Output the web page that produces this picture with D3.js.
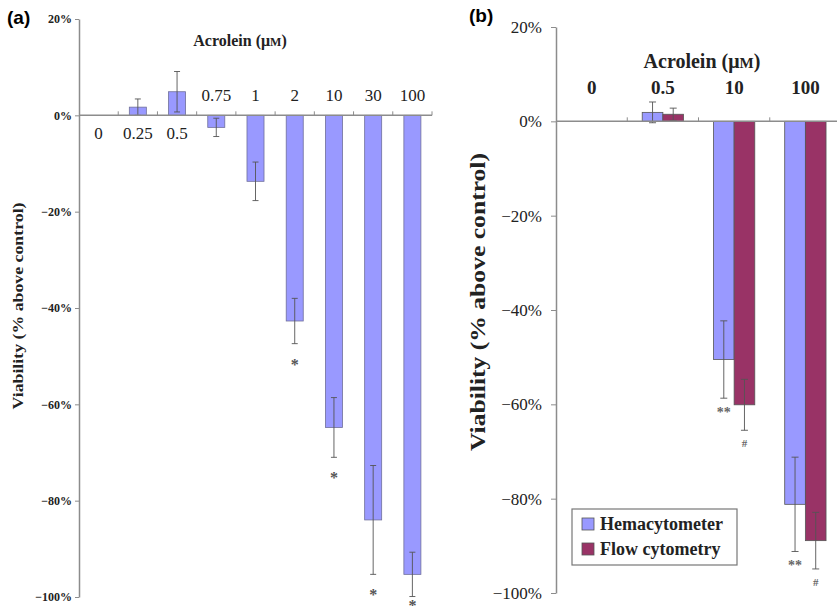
<!DOCTYPE html>
<html>
<head>
<meta charset="utf-8">
<script src="https://cdn.jsdelivr.net/npm/d3@7"></script>
<style>
  body { margin: 0; background: #fff; }
  svg { display: block; }
  .serif { font-family: "Liberation Serif", "Times New Roman", serif; }
</style>
</head>
<body>
<div class="chart"></div>
<script>
// panel (a) data
var concA = ["0", "0.25", "0.5", "0.75", "1", "2", "10", "30", "100"];
var meanA = [0, 1.7, 4.9, -2.5, -13.7, -42.7, -64.8, -84.0, -95.3];
var sdA = [0, 1.7, 4.2, 1.9, 4.0, 4.7, 6.2, 11.3, 4.6];
var sigA = ["", "", "", "", "", "*", "*", "*", "*"];

// panel (b) data
var concB = ["0", "0.5", "10", "100"];
var seriesB = ["Hemacytometer", "Flow cytometry"];
var hemaB = [0, 1.9, -50.5, -81.2];
var hemaSdB = [0, 2.2, 8.2, 10.0];
var flowB = [0, 1.5, -60.1, -88.9];
var flowSdB = [0, 1.3, 5.4, 6.0];
var hemaSigB = ["", "", "**", "**"];
var flowSigB = ["", "", "#", "#"];

var tickVals = [20, 0, -20, -40, -60, -80, -100];

var colors = ["#9999ff", "#993366"];
var axisColor = "#8c8c8c";
var errColor = "#555";

var svg = d3.select(".chart").append("svg")
  .attr("width", 837)
  .attr("height", 606);

function pct(d) { return (d < 0 ? "\u2212" : "") + Math.abs(d) + "%"; }

// ---------- panel (a) ----------
var xA = d3.scaleBand()
  .domain(concA)
  .range([79, 432])
  .paddingInner(0.566)
  .paddingOuter(0.283);
var yA = d3.scaleLinear()
  .domain([-100, 20])
  .range([597, 19]);

var gA = svg.append("g");

var axA = gA.append("g")
  .attr("transform", "translate(79,0)")
  .call(d3.axisLeft(yA).tickValues(tickVals).tickSize(4).tickSizeOuter(0).tickPadding(3).tickFormat(pct));
axA.select(".domain").attr("stroke", axisColor).attr("stroke-width", 1.5);
axA.selectAll(".tick line").attr("stroke", axisColor);
axA.selectAll(".tick text")
  .attr("class", "serif")
  .style("font-size", "12px")
  .style("font-weight", "bold")
  .attr("fill", "#222");

// bars
var dataA = concA.map(function(c, i) {
  return {c: c, v: meanA[i], sd: sdA[i], sig: sigA[i]};
});
gA.selectAll(".barA")
  .data(dataA.filter(function(d) { return d.v !== 0; }))
  .enter().append("rect")
  .attr("x", function(d) { return xA(d.c); })
  .attr("y", function(d) { return yA(Math.max(0, d.v)); })
  .attr("width", xA.bandwidth())
  .attr("height", function(d) { return Math.abs(yA(d.v) - yA(0)); })
  .attr("fill", colors[0])
  .attr("stroke", "#6f6f9a")
  .attr("stroke-width", 0.8);

// error bars
var errA = gA.selectAll(".errA")
  .data(dataA.filter(function(d) { return d.sd > 0; }))
  .enter().append("g")
  .attr("transform", function(d) { return "translate(" + (xA(d.c) + xA.bandwidth() / 2) + ",0)"; });
errA.append("line")
  .attr("y1", function(d) { return yA(d.v + d.sd); })
  .attr("y2", function(d) { return yA(d.v - d.sd); })
  .attr("stroke", errColor).attr("stroke-width", 0.9);
errA.selectAll(".cap")
  .data(function(d) { return [d.v + d.sd, d.v - d.sd]; })
  .enter().append("line")
  .attr("x1", -3).attr("x2", 3)
  .attr("y1", function(v) { return yA(v); })
  .attr("y2", function(v) { return yA(v); })
  .attr("stroke", errColor).attr("stroke-width", 0.9);

// significance marks
gA.selectAll(".sigA")
  .data(dataA.filter(function(d) { return d.sig; }))
  .enter().append("text")
  .attr("class", "serif")
  .attr("x", function(d) { return xA(d.c) + xA.bandwidth() / 2; })
  .attr("y", function(d) { return Math.min(yA(d.v - d.sd) + 26, 611); })
  .attr("text-anchor", "middle")
  .style("font-size", "16px")
  .style("font-weight", "bold")
  .attr("fill", "#555")
  .text(function(d) { return d.sig; });

// x axis line with boundary ticks
gA.append("line")
  .attr("x1", 79).attr("x2", 432)
  .attr("y1", yA(0)).attr("y2", yA(0))
  .attr("stroke", axisColor).attr("stroke-width", 1.5);
gA.selectAll(".xtickA")
  .data(concA)
  .enter().append("line")
  .attr("x1", function(d, i) { return xA.range()[0] + (i + 1) * xA.step(); })
  .attr("x2", function(d, i) { return xA.range()[0] + (i + 1) * xA.step(); })
  .attr("y1", yA(0)).attr("y2", yA(0) - 4)
  .attr("stroke", axisColor);

// category labels
gA.selectAll(".catA")
  .data(dataA)
  .enter().append("text")
  .attr("class", "serif")
  .attr("x", function(d) { return xA(d.c) + xA.bandwidth() / 2; })
  .attr("y", function(d) { return d.v >= 0 ? yA(0) + 24 : yA(0) - 14; })
  .attr("text-anchor", "middle")
  .style("font-size", "17px")
  .attr("fill", "#222")
  .text(function(d) { return d.c; });

// title
var tA = gA.append("text")
  .attr("class", "serif")
  .attr("x", 240).attr("y", 46)
  .attr("text-anchor", "middle")
  .style("font-size", "16px")
  .style("font-weight", "bold")
  .attr("fill", "#222");
tA.append("tspan").text("Acrolein (\u03bc");
tA.append("tspan").style("font-size", "12px").text("M");
tA.append("tspan").text(")");

// y label
gA.append("text")
  .attr("class", "serif")
  .attr("transform", "translate(23,306) rotate(-90)")
  .attr("text-anchor", "middle")
  .attr("textLength", 207)
  .attr("lengthAdjust", "spacingAndGlyphs")
  .style("font-size", "14px")
  .style("font-weight", "bold")
  .attr("fill", "#222")
  .text("Viability (% above control)");

svg.append("text")
  .attr("x", 7).attr("y", 24)
  .style("font-family", "'Liberation Sans', Arial, sans-serif")
  .style("font-size", "19px")
  .style("font-weight", "bold")
  .text("(a)");

// ---------- panel (b) ----------
var x0B = d3.scaleBand()
  .domain(concB)
  .range([556, 841])
  .paddingInner(0.42)
  .paddingOuter(0.21);
var x1B = d3.scaleBand()
  .domain(seriesB)
  .range([0, x0B.bandwidth()]);
var yB = d3.scaleLinear()
  .domain([-100, 20])
  .range([593, 27]);

var gB = svg.append("g");

var axB = gB.append("g")
  .attr("transform", "translate(556,0)")
  .call(d3.axisLeft(yB).tickValues(tickVals).tickSize(5).tickSizeOuter(0).tickPadding(9).tickFormat(pct));
axB.select(".domain").attr("stroke", axisColor).attr("stroke-width", 1.5);
axB.selectAll(".tick line").attr("stroke", axisColor);
axB.selectAll(".tick text")
  .attr("class", "serif")
  .style("font-size", "17px")
  .attr("fill", "#222");

var dataB = [];
concB.forEach(function(c, i) {
  dataB.push({c: c, s: seriesB[0], v: hemaB[i], sd: hemaSdB[i], sig: hemaSigB[i], col: colors[0]});
  dataB.push({c: c, s: seriesB[1], v: flowB[i], sd: flowSdB[i], sig: flowSigB[i], col: colors[1]});
});
function cxB(d) { return x0B(d.c) + x1B(d.s) + x1B.bandwidth() / 2; }

gB.selectAll(".barB")
  .data(dataB.filter(function(d) { return d.v !== 0; }))
  .enter().append("rect")
  .attr("x", function(d) { return x0B(d.c) + x1B(d.s); })
  .attr("y", function(d) { return yB(Math.max(0, d.v)); })
  .attr("width", x1B.bandwidth())
  .attr("height", function(d) { return Math.abs(yB(d.v) - yB(0)); })
  .attr("fill", function(d) { return d.col; })
  .attr("stroke", "#555")
  .attr("stroke-width", 0.8);

var errB = gB.selectAll(".errB")
  .data(dataB.filter(function(d) { return d.sd > 0; }))
  .enter().append("g")
  .attr("transform", function(d) { return "translate(" + cxB(d) + ",0)"; });
errB.append("line")
  .attr("y1", function(d) { return yB(d.v + d.sd); })
  .attr("y2", function(d) { return yB(d.v - d.sd); })
  .attr("stroke", errColor).attr("stroke-width", 0.9);
errB.selectAll(".cap")
  .data(function(d) { return [d.v + d.sd, d.v - d.sd]; })
  .enter().append("line")
  .attr("x1", -3.5).attr("x2", 3.5)
  .attr("y1", function(v) { return yB(v); })
  .attr("y2", function(v) { return yB(v); })
  .attr("stroke", errColor).attr("stroke-width", 0.9);

gB.selectAll(".sigB")
  .data(dataB.filter(function(d) { return d.sig; }))
  .enter().append("text")
  .attr("class", "serif")
  .attr("x", cxB)
  .attr("y", function(d) { return yB(d.v - d.sd) + (d.sig === "#" ? 17 : 19); })
  .attr("text-anchor", "middle")
  .style("font-size", function(d) { return d.sig === "#" ? "11px" : "14px"; })
  .style("font-weight", "bold")
  .attr("fill", "#666")
  .text(function(d) { return d.sig; });

gB.append("line")
  .attr("x1", 556).attr("x2", 837)
  .attr("y1", yB(0)).attr("y2", yB(0))
  .attr("stroke", axisColor).attr("stroke-width", 1.5);
gB.selectAll(".xtickB")
  .data(concB)
  .enter().append("line")
  .attr("x1", function(d, i) { return x0B.range()[0] + (i + 1) * x0B.step(); })
  .attr("x2", function(d, i) { return x0B.range()[0] + (i + 1) * x0B.step(); })
  .attr("y1", yB(0)).attr("y2", yB(0) - 4)
  .attr("stroke", axisColor);

gB.selectAll(".catB")
  .data(concB)
  .enter().append("text")
  .attr("class", "serif")
  .attr("x", function(d) { return x0B(d) + x0B.bandwidth() / 2; })
  .attr("y", 94)
  .attr("text-anchor", "middle")
  .style("font-size", "19px")
  .style("font-weight", "bold")
  .attr("fill", "#222")
  .text(function(d) { return d; });

var tB = gB.append("text")
  .attr("class", "serif")
  .attr("x", 702).attr("y", 68)
  .attr("text-anchor", "middle")
  .style("font-size", "20px")
  .style("font-weight", "bold")
  .attr("fill", "#222");
tB.append("tspan").text("Acrolein (\u03bc");
tB.append("tspan").style("font-size", "15px").text("M");
tB.append("tspan").text(")");

gB.append("text")
  .attr("class", "serif")
  .attr("transform", "translate(485,302) rotate(-90)")
  .attr("text-anchor", "middle")
  .attr("textLength", 298)
  .attr("lengthAdjust", "spacingAndGlyphs")
  .style("font-size", "20px")
  .style("font-weight", "bold")
  .attr("fill", "#222")
  .text("Viability (% above control)");

svg.append("text")
  .attr("x", 469).attr("y", 22)
  .style("font-family", "'Liberation Sans', Arial, sans-serif")
  .style("font-size", "19px")
  .style("font-weight", "bold")
  .text("(b)");

// legend
var legend = gB.append("g").attr("transform", "translate(572,509)");
legend.append("rect")
  .attr("width", 165).attr("height", 56)
  .attr("fill", "#fff")
  .attr("stroke", "#777")
  .attr("stroke-width", 1.2);
var li = legend.selectAll(".li")
  .data(seriesB)
  .enter().append("g")
  .attr("transform", function(d, i) { return "translate(10," + (15 + i * 25) + ")"; });
li.append("rect")
  .attr("x", 0).attr("y", -6)
  .attr("width", 12).attr("height", 12)
  .attr("fill", function(d, i) { return colors[i]; })
  .attr("stroke", "#555")
  .attr("stroke-width", 0.8);
li.append("text")
  .attr("class", "serif")
  .attr("x", 18).attr("y", 6)
  .style("font-size", "18px")
  .style("font-weight", "bold")
  .attr("fill", "#222")
  .text(function(d) { return d; });
</script>
</body>
</html>
